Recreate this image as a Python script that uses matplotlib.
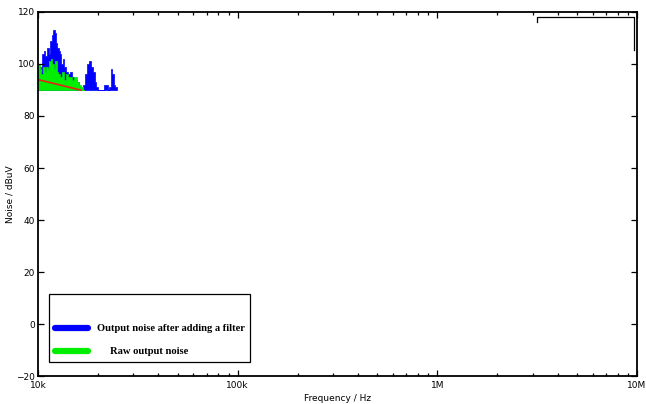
import numpy as np
import matplotlib
matplotlib.use("Agg")
import matplotlib.pyplot as plt
from matplotlib.ticker import FixedLocator, FixedFormatter, LogLocator, NullFormatter

# Spectrum data (frequency in kHz, level in dBuV)
blue_f = [10.0, 10.2, 10.4, 10.6, 10.8, 11.0, 11.2, 11.4, 11.6, 11.8, 12.0, 12.2,
          12.4, 12.6, 12.8, 13.0, 13.2, 13.4, 13.7, 14.0, 14.3, 14.6, 15.0, 15.4,
          15.8, 16.2, 16.6, 17.0, 17.4, 17.8, 18.2, 18.6, 19.0, 19.4, 19.8, 20.2,
          21.0, 22.0, 22.6, 23.0, 23.4, 23.8, 24.2, 24.6, 25.0]
blue_v = [96, 99, 97, 104, 105, 103, 106, 104, 109, 111, 113, 112,
          108, 106, 105, 104, 100, 102, 99, 97, 96, 97, 95, 94,
          93, 91, 90, 92, 96, 100, 101, 99, 97, 93, 91, 90,
          90, 92, 90, 91, 98, 96, 92, 91, 90]

green_f = [10.0, 10.1, 10.3, 10.5, 10.7, 10.9, 11.1, 11.3, 11.5, 11.7, 11.9, 12.1,
           12.3, 12.5, 12.8, 13.1, 13.4, 13.7, 14.0, 14.3, 14.6, 15.0, 15.4, 15.8,
           16.2, 16.6, 17.0]
green_v = [97, 100, 98, 96, 99, 97, 99, 98, 101, 102, 100, 98,
           101, 97, 96, 95, 97, 94, 96, 95, 95, 94, 95, 93,
           92, 91, 90]

red_f = [10.0, 16.3]
red_v = [94, 90]

floor = 90
xticks = [1e4, 1e5, 1e6, 1e7]
xlabels = ["10k", "100k", "1M", "10M"]
yticks = [-20, 0, 20, 40, 60, 80, 100, 120]

fig = plt.figure(figsize=(6.46, 4.04), dpi=100)
ax = fig.add_axes([0.0588, 0.0693, 0.9272, 0.9010])

bf = np.array(blue_f) * 1e3
gf = np.array(green_f) * 1e3
rf = np.array(red_f) * 1e3

ax.fill_between(bf, floor, blue_v, step="mid", color="#0000ff", lw=0.5, edgecolor="#0000ff")
ax.fill_between(gf, floor, green_v, step="mid", color="#00ee00", lw=0.5, edgecolor="#00ee00")
ax.plot(rf, red_v, color="#e8201c", lw=1.2)

ax.set_xscale("log")
ax.set_xlim(1e4, 1e7)
ax.set_ylim(-20, 120)
ax.xaxis.set_major_locator(FixedLocator(xticks))
ax.xaxis.set_major_formatter(FixedFormatter(xlabels))
ax.xaxis.set_minor_locator(LogLocator(base=10, subs=np.arange(2, 10)))
ax.xaxis.set_minor_formatter(NullFormatter())
ax.set_yticks(yticks)

ax.tick_params(which="both", direction="in", top=True, right=True, labelsize=6.5,
               width=0.9, pad=2)
ax.tick_params(axis="x", which="both", pad=3.5)
ax.tick_params(which="major", length=4)
ax.tick_params(which="minor", length=2.5)
for s in ax.spines.values():
    s.set_linewidth(1.3)

ax.set_xlabel("Frequency / Hz", fontsize=6.5, labelpad=3)
ax.set_ylabel("Noise / dBuV", fontsize=6.5, labelpad=1)

# leftover bracket in the top-right corner
ax.plot([0.833, 0.833, 0.995, 0.995], [0.973, 0.986, 0.986, 0.896],
        transform=ax.transAxes, color="black", lw=0.9, clip_on=False)

h1 = plt.Line2D([], [], color="#0000ff", lw=4.5, solid_capstyle="round")
h2 = plt.Line2D([], [], color="#00ee00", lw=4.5, solid_capstyle="round")
leg = ax.legend([h1, h2], ["Output noise after adding a filter", "     Raw output noise"],
                loc="lower left", bbox_to_anchor=(0.018, 0.038), borderaxespad=0,
                fancybox=False, edgecolor="black", framealpha=1,
                handlelength=3.2, handletextpad=0.8, labelspacing=1.3,
                borderpad=0.55, title=" ", title_fontsize=8,
                prop={"family": "Liberation Serif", "weight": "bold", "size": 7.6})
leg.get_frame().set_linewidth(0.9)

fig.savefig("out.png", dpi=100)
